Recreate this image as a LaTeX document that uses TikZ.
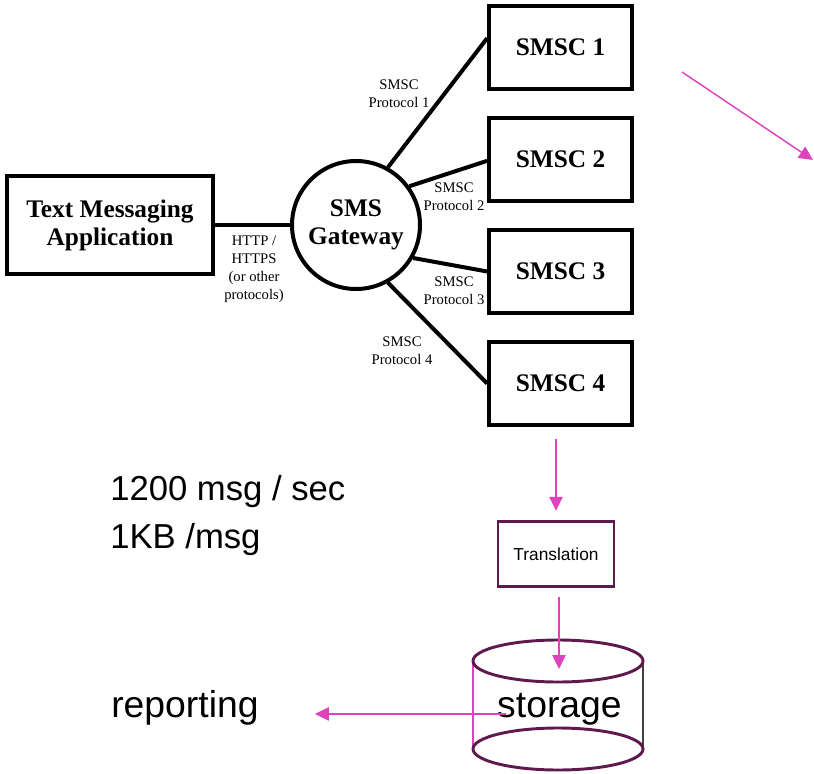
\documentclass[tikz,border=0pt]{standalone}
\usepackage{fontspec}
\setmainfont{Liberation Serif}
\newfontfamily\slidefont{Liberation Sans}
\usetikzlibrary{arrows.meta}
\definecolor{pinkline}{RGB}{221,68,187}
\definecolor{plum}{RGB}{94,26,78}

\begin{document}
\begin{tikzpicture}[x=0.75pt,y=0.75pt,yscale=-1,xscale=1,
  box/.style={draw,line width=3pt,inner sep=0.75pt,align=center,font=\bfseries\fontsize{19}{21}\selectfont},
  link/.style={line width=3pt},
  proto/.style={inner sep=0.75pt,align=center,font=\fontsize{11}{13.5}\selectfont},
  flow/.style={draw=pinkline,line width=1.1pt,-{Triangle[length=10.5pt,width=10pt]}},
  big/.style={inner sep=0pt,font=\slidefont\fontsize{26}{30}\selectfont}]
\useasboundingbox (0,0) rectangle (814,774);

%Shape: Rectangle [id:app]
\node (app) [box,minimum width=154pt,minimum height=74pt] at (110,225) {Text Messaging\\Application};
%Shape: Circle [id:gw]
\node (gw) [box,circle,inner sep=0pt,minimum size=96pt] at (356,225) {SMS\\Gateway};
%Shape: Rectangle [id:smsc1]
\node (smsc1) [box,minimum width=107pt,minimum height=62pt] at (560.5,47.5) {SMSC 1};
%Shape: Rectangle [id:smsc2]
\node (smsc2) [box,minimum width=107pt,minimum height=62pt] at (560.5,159.5) {SMSC 2};
%Shape: Rectangle [id:smsc3]
\node (smsc3) [box,minimum width=107pt,minimum height=62pt] at (560.5,271.5) {SMSC 3};
%Shape: Rectangle [id:smsc4]
\node (smsc4) [box,minimum width=107pt,minimum height=62pt] at (560.5,383.5) {SMSC 4};

%Straight Lines [id:links]
\draw [link] (app.east) -- (gw.west) ;
\draw [link] (gw.61) -- ([yshift=-7pt]smsc1.west) ;
\draw [link] (gw.36) -- ([yshift=1pt]smsc2.west) ;
\draw [link] (gw.-30) -- (smsc3.west) ;
\draw [link] (gw.-61) -- (smsc4.west) ;

% Text Node
\node (http) [proto] at (254,269) {HTTP /\\HTTPS\\(or other\\protocols)};
% Text Node
\node (proto1) [proto] at (399,94) {SMSC\\Protocol 1};
% Text Node
\node (proto2) [proto] at (454,197) {SMSC\\Protocol 2};
% Text Node
\node (proto3) [proto] at (454,291) {SMSC\\Protocol 3};
% Text Node
\node (proto4) [proto] at (402,351) {SMSC\\Protocol 4};

%Straight Lines [id:stray]
\coordinate (tail) at (682,72);
\coordinate (head) at (813,160);
\draw [flow] (tail) -- (head) ;

%Shape: Rectangle [id:trans]
\node (trans) [draw=plum,line width=1.8pt,minimum width=87pt,minimum height=49pt,font=\slidefont\fontsize{13}{15}\selectfont] at (556,554) {Translation};
\draw [flow,shorten <=9pt,shorten >=7pt] (smsc4.south -| trans) -- (trans.north) ;

%Shape: Can [id:store]
\draw [draw=pinkline,line width=1pt] (473,661) -- (473,749) ;
\draw [draw=black!75,line width=0.8pt] (643,661) -- (643,749) ;
\draw [draw=plum,line width=2.2pt] (558,661) ellipse [x radius=85,y radius=21] ;
\draw [draw=plum,line width=2.2pt] (558,749) ellipse [x radius=85,y radius=21] ;
\coordinate (lid) at (559,669);
\draw [flow,shorten <=7pt] (trans.south -| lid) -- (lid) ;

% Text Node
\node (storage) [big,font=\slidefont\fontsize{28}{32}\selectfont,anchor=base] at (559.5,717) {storage};
% Text Node
\node (reporting) [big,font=\slidefont\fontsize{28}{32}\selectfont,anchor=base west] at (111,717) {reporting};
\draw [flow,shorten <=-7pt,shorten >=42pt] (storage.mid west) -- (reporting.mid east) ;

% Text Node
\node (rate) [big,anchor=base west] at (110,500) {1200 msg / sec};
% Text Node
\node (size) [big,anchor=base west] at (110,548) {1KB /msg};

\end{tikzpicture}
\end{document}
